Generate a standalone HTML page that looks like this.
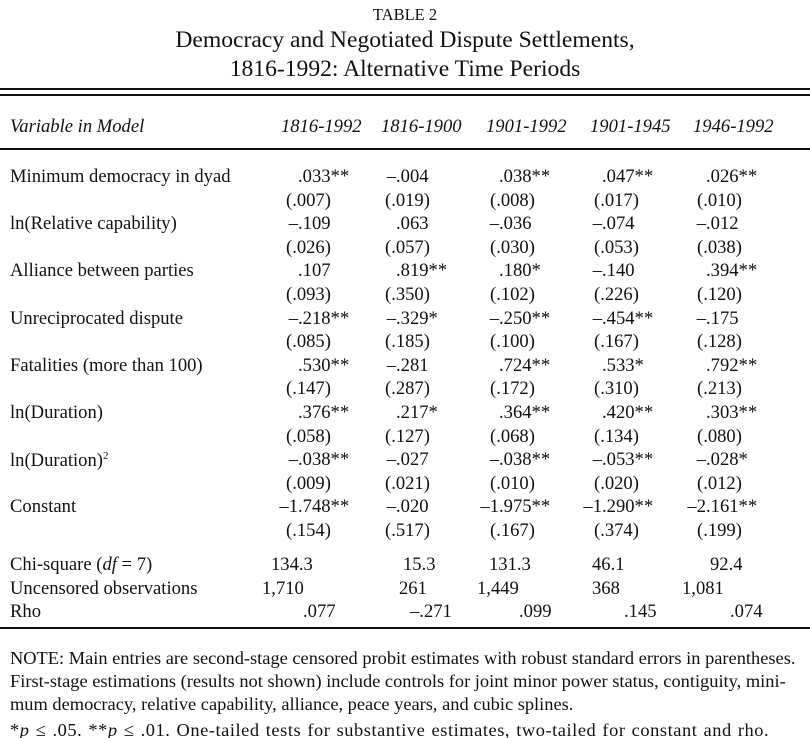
<!DOCTYPE html>
<html><head><meta charset="utf-8">
<style>
body{margin:0;background:#fff;}
#pg{position:relative;width:810px;height:738px;overflow:hidden;background:#fff;color:#111;font-family:"Liberation Serif",serif;font-size:18.6px;}
.t{position:absolute;white-space:nowrap;line-height:1;}
.r{position:absolute;left:0;width:810px;background:#111;}
.c{position:absolute;left:0;width:810px;text-align:center;white-space:nowrap;line-height:1;}
.i{font-style:italic;}
.note{position:absolute;left:10px;white-space:nowrap;line-height:1;font-size:18.4px;}
</style></head><body>
<div id="pg">
<div class="c" style="top:7px;font-size:16.5px;">TABLE 2</div>
<div class="c" style="top:29px;font-size:23.6px;">Democracy and Negotiated Dispute Settlements,</div>
<div class="c" style="top:58px;font-size:23.6px;">1816-1992: Alternative Time Periods</div>
<div class="r" style="top:88px;height:2px;"></div>
<div class="r" style="top:94px;height:2px;"></div>
<div class="r" style="top:148px;height:1.5px;"></div>
<div class="r" style="top:627px;height:2px;"></div>
<div class="t i" style="left:10px;top:118px;">Variable in Model</div>
<div class="t i" style="left:281px;top:118px;">1816-1992</div>
<div class="t i" style="left:381px;top:118px;">1816-1900</div>
<div class="t i" style="left:486px;top:118px;">1901-1992</div>
<div class="t i" style="left:590px;top:118px;">1901-1945</div>
<div class="t i" style="left:693px;top:118px;">1946-1992</div>
<div class="note" style="top:649px;">NOTE: Main entries are second-stage censored probit estimates with robust standard errors in parentheses.</div>
<div class="note" style="top:672px;">First-stage estimations (results not shown) include controls for joint minor power status, contiguity, mini-</div>
<div class="note" style="top:695px;">mum democracy, relative capability, alliance, peace years, and cubic splines.</div>
<div class="note" style="top:721px;letter-spacing:0.55px;word-spacing:1px;">*<i>p</i> ≤ .05. **<i>p</i> ≤ .01. One-tailed tests for substantive estimates, two-tailed for constant and rho.</div>
</div>
<script>
var variables=["Minimum democracy in dyad","ln(Relative capability)","Alliance between parties","Unreciprocated dispute","Fatalities (more than 100)","ln(Duration)","ln(Duration)<sup style=\"font-size:11px\">2</sup>","Constant"];
var coefs=[
[".033**","–.004",".038**",".047**",".026**"],
["–.109",".063","–.036","–.074","–.012"],
[".107",".819**",".180*","–.140",".394**"],
["–.218**","–.329*","–.250**","–.454**","–.175"],
[".530**","–.281",".724**",".533*",".792**"],
[".376**",".217*",".364**",".420**",".303**"],
["–.038**","–.027","–.038**","–.053**","–.028*"],
["–1.748**","–.020","–1.975**","–1.290**","–2.161**"]];
var ses=[
["(.007)","(.019)","(.008)","(.017)","(.010)"],
["(.026)","(.057)","(.030)","(.053)","(.038)"],
["(.093)","(.350)","(.102)","(.226)","(.120)"],
["(.085)","(.185)","(.100)","(.167)","(.128)"],
["(.147)","(.287)","(.172)","(.310)","(.213)"],
["(.058)","(.127)","(.068)","(.134)","(.080)"],
["(.009)","(.021)","(.010)","(.020)","(.012)"],
["(.154)","(.517)","(.167)","(.374)","(.199)"]];
var statLabels=["Chi-square (<i>df</i> = 7)","Uncensored observations","Rho"];
var statVals=[["134.3","15.3","131.3","46.1","92.4"],["1,710","261","1,449","368","1,081"],[".077","–.271",".099",".145",".074"]];
var decX=[298,396,499,602,706];
var seX=[286,385,490,594,697];
var statX=[[271,403,489,592,710],[262,399,477,592,682],[303,410,519,624,730]];
var pg=document.getElementById('pg');
function mk(html,left,top,name){var d=document.createElement('div');d.className='t';d.innerHTML=html;d.style.left=left+'px';d.style.top=top+'px';


pg.appendChild(d);return d;}
function dec(txt,x,top,name){
var k=txt.indexOf('.');var pre=txt.slice(0,k),post=txt.slice(k);
var d=mk('',0,top,name);
d.innerHTML='<span style="display:inline-block;width:60px;text-align:right">'+pre+'</span>'+post;
d.style.left=(x-60)+'px';}
for(var r=0;r<variables.length;r++){
var y=168+r*47.2;
mk(variables[r],10,y,'row-label-'+r);
for(var c=0;c<5;c++){
dec(coefs[r][c],decX[c],y,'coef-r'+r+'-c'+c);
mk(ses[r][c],seX[c],y+23.5,'se-r'+r+'-c'+c);
}}
for(var s=0;s<3;s++){
var y2=556+s*23.5;
mk(statLabels[s],10,y2,'stat-label-'+s);
for(var c2=0;c2<5;c2++){mk(statVals[s][c2],statX[s][c2],y2,'stat-r'+s+'-c'+c2);}
}
</script>
</body></html>
